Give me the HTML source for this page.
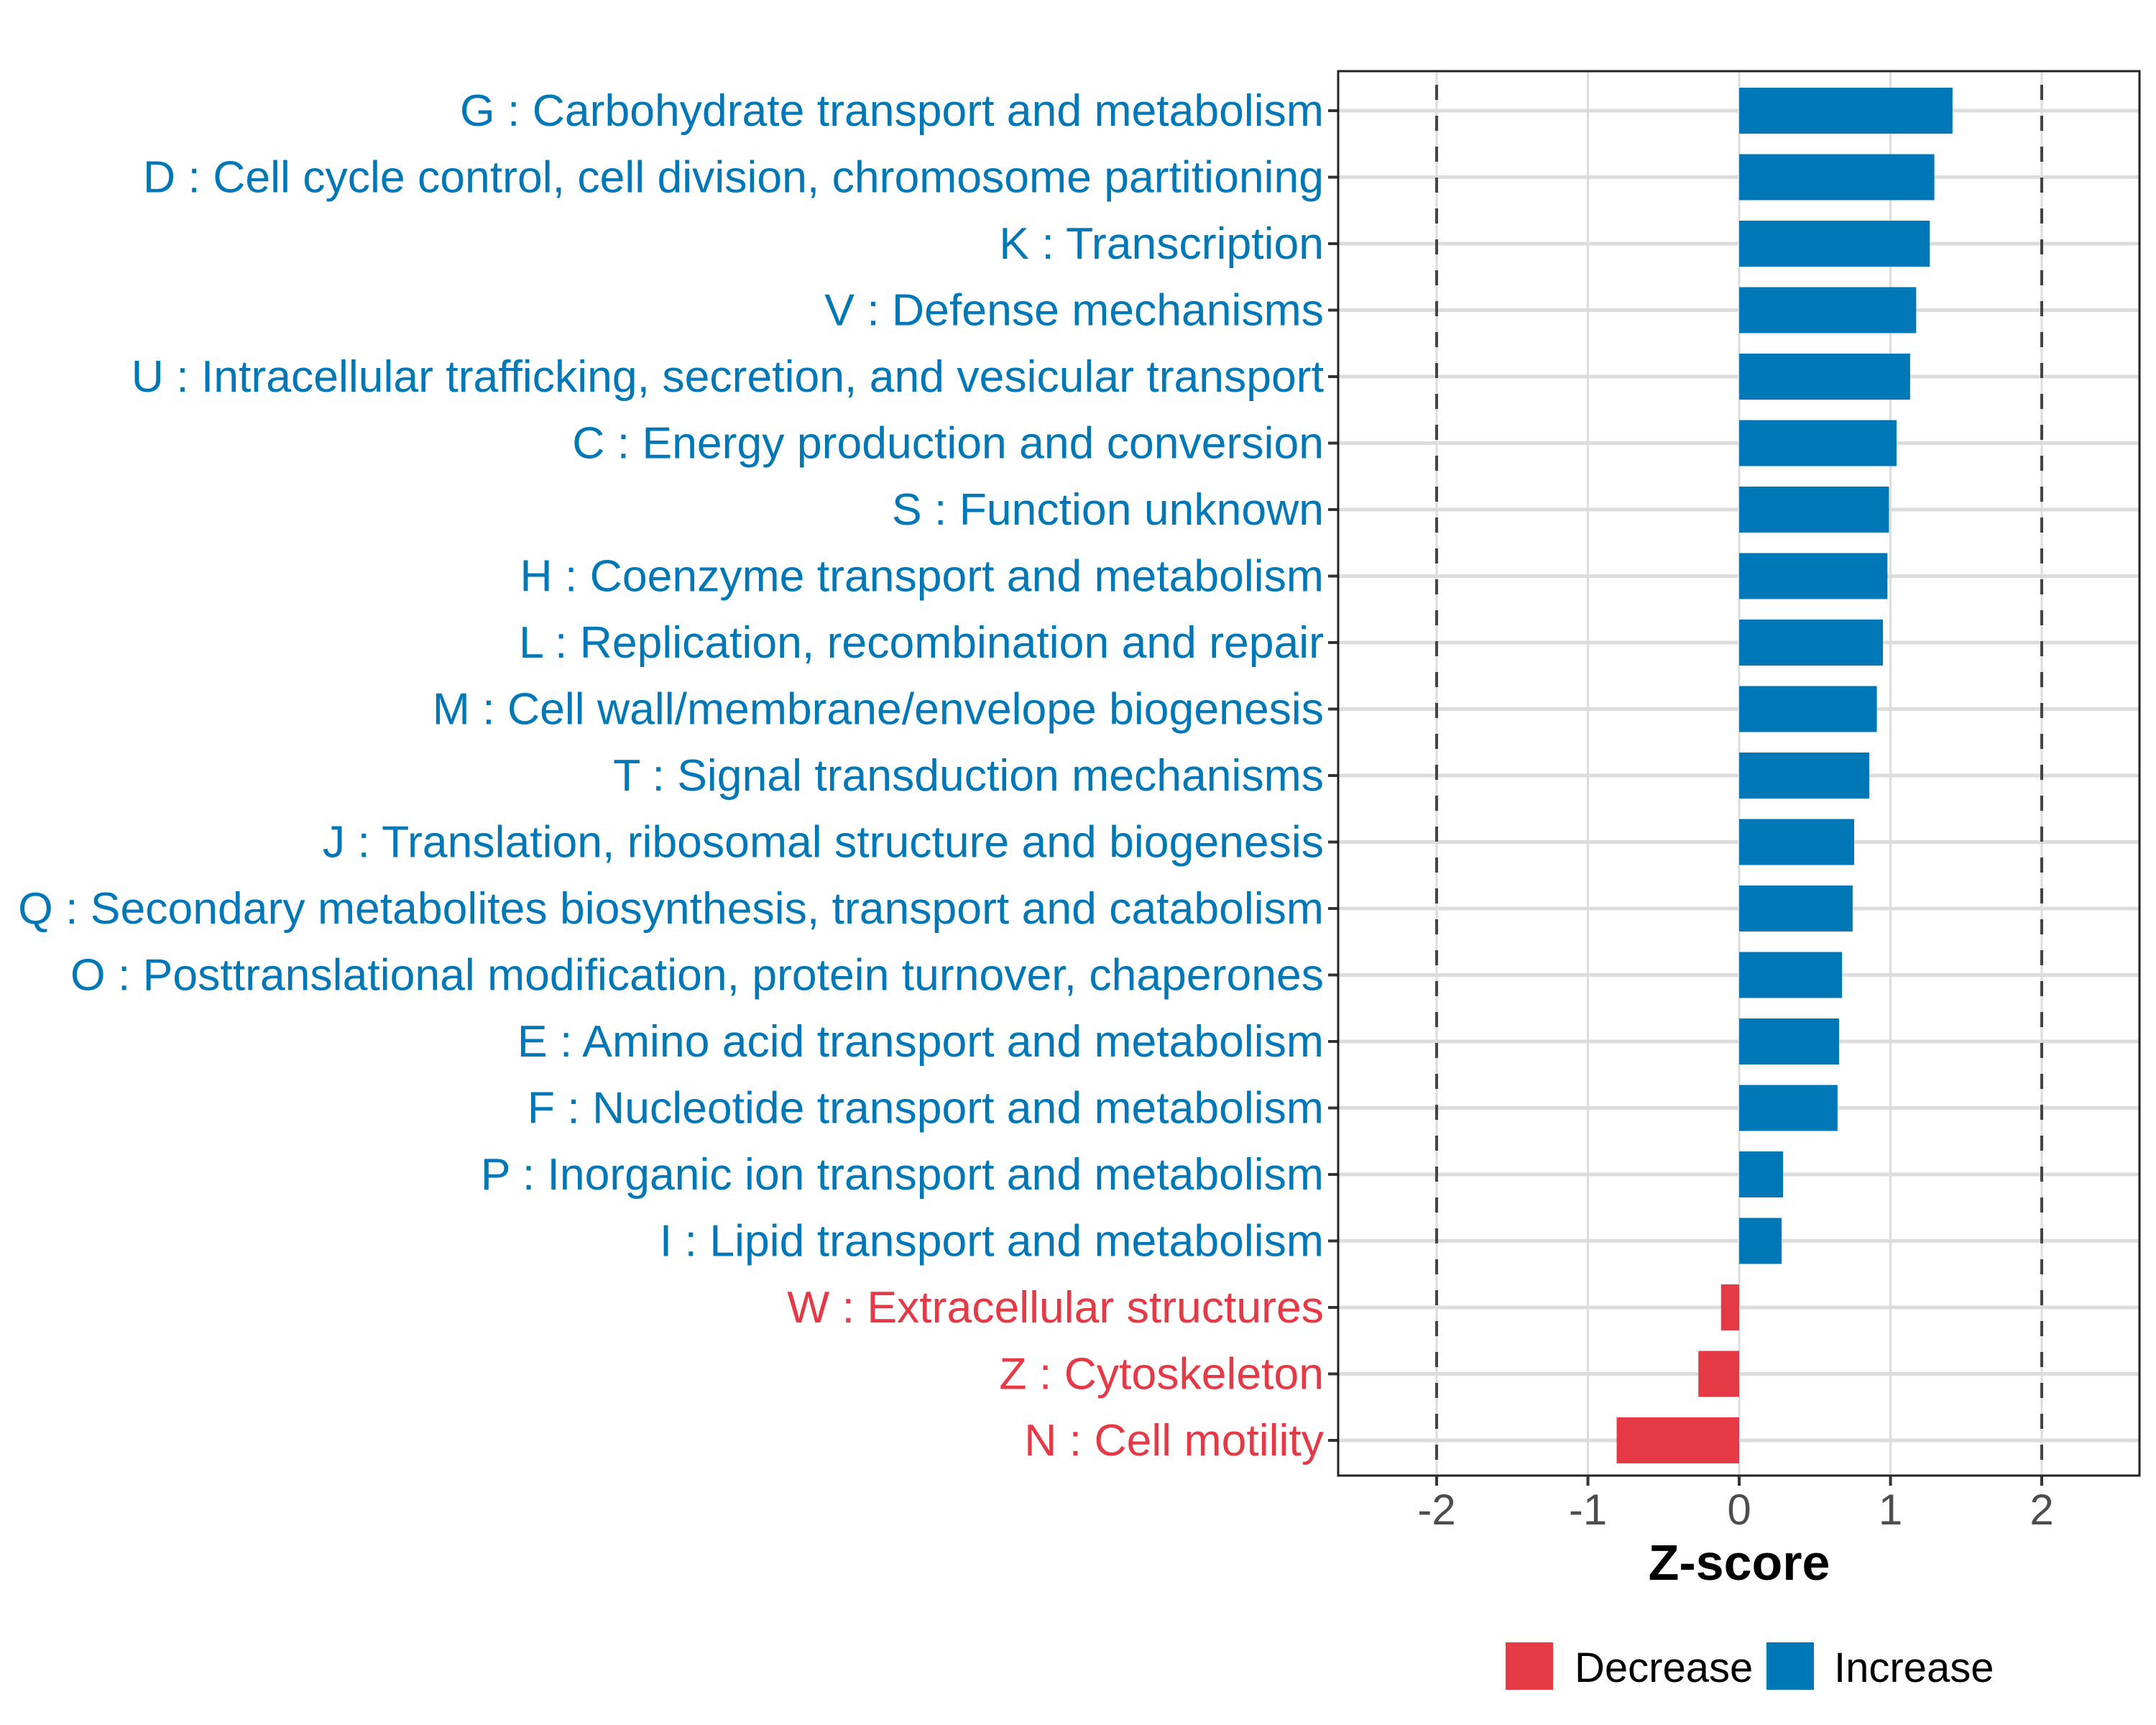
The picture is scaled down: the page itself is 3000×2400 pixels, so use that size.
<!DOCTYPE html>
<html><head><meta charset="utf-8"><style>
html,body{margin:0;padding:0;background:#fff;}
svg{display:block;font-family:"Liberation Sans",Arial,sans-serif;}
</style></head><body>
<svg id="chart" width="3000" height="2400" viewBox="0 0 3000 2400">
<g id="grid"></g>
<g id="bars"></g>
<g id="ylabels"></g>
<g id="xaxis"></g>
<text x="2420" y="2198" text-anchor="middle" font-size="70" font-weight="bold" fill="#000">Z-score</text>
<g>
<rect x="2095" y="2285" width="66" height="66" fill="#E63946"/>
<text x="2191" y="2340" font-size="58" fill="#000">Decrease</text>
<rect x="2458" y="2285" width="66" height="66" fill="#0077B6"/>
<text x="2552" y="2340" font-size="58" fill="#000">Increase</text>
</g>
</svg>
<script>
const categories = ["G : Carbohydrate transport and metabolism","D : Cell cycle control, cell division, chromosome partitioning","K : Transcription","V : Defense mechanisms","U : Intracellular trafficking, secretion, and vesicular transport","C : Energy production and conversion","S : Function unknown","H : Coenzyme transport and metabolism","L : Replication, recombination and repair","M : Cell wall/membrane/envelope biogenesis","T : Signal transduction mechanisms","J : Translation, ribosomal structure and biogenesis","Q : Secondary metabolites biosynthesis, transport and catabolism","O : Posttranslational modification, protein turnover, chaperones","E : Amino acid transport and metabolism","F : Nucleotide transport and metabolism","P : Inorganic ion transport and metabolism","I : Lipid transport and metabolism","W : Extracellular structures","Z : Cytoskeleton","N : Cell motility"];
const zscores = [1.41,1.29,1.26,1.17,1.13,1.04,0.99,0.98,0.95,0.91,0.86,0.76,0.75,0.68,0.66,0.65,0.29,0.28,-0.12,-0.27,-0.81];
const xTicks = [-2,-1,0,1,2];
const xTickLabels = ["-2","-1","0","1","2"];
const thresholds = [-2,2];

const NS="http://www.w3.org/2000/svg";
const L=1862,R=2977,T=99,B=2053;
const xMin=-2.651,xMax=2.646;
const x=v=>L+(v-xMin)/(xMax-xMin)*(R-L);
const step=92.5,firstY=154;
const y=i=>firstY+i*step;
const BLUE="#0077B6",RED="#E63946";
function mk(tag,attrs,parent){const e=document.createElementNS(NS,tag);for(const k in attrs)e.setAttribute(k,attrs[k]);parent.appendChild(e);return e;}
const grid=document.getElementById('grid'),bars=document.getElementById('bars'),yl=document.getElementById('ylabels'),xa=document.getElementById('xaxis');
xTicks.forEach(v=>{
  const g=mk('line',{x1:x(v),x2:x(v),y1:T,y2:B,stroke:'#dcdcdc','stroke-width':3},grid);
  
  
});
categories.forEach((c,i)=>{
  const g=mk('line',{x1:L,x2:R,y1:y(i),y2:y(i),stroke:'#dcdcdc','stroke-width':5},grid);
  
  
});
thresholds.forEach(t=>{
  const d=mk('line',{x1:x(t),x2:x(t),y1:T,y2:B,stroke:'#444','stroke-width':4,'stroke-dasharray':'21 22','stroke-dashoffset':'-19'},grid);
  
  
});
categories.forEach((c,i)=>{
  const v=zscores[i];
  const col=v>=0?BLUE:RED;
  const b=mk('rect',{x:Math.min(x(0),x(v)),y:y(i)-32,width:Math.abs(x(v)-x(0)),height:64,fill:col},bars);
  
  
  const tk=mk('line',{x1:L-14,x2:L,y1:y(i),y2:y(i),stroke:'#333','stroke-width':4},yl);
  
  
  const t=mk('text',{x:L-20,y:y(i)+21,'text-anchor':'end','font-size':62.5,fill:col},yl);
  t.textContent=c;
  
  
});
const pb=mk('rect',{x:L,y:T,width:R-L,height:B-T,fill:'none',stroke:'#222','stroke-width':3},xa);


xTicks.forEach((v,i)=>{
  const tk=mk('line',{x1:x(v),x2:x(v),y1:B,y2:B+14,stroke:'#333','stroke-width':4},xa);
  
  
  const t=mk('text',{x:x(v),y:2121,'text-anchor':'middle','font-size':60,fill:'#4d4d4d'},xa);
  t.textContent=xTickLabels[i];
  
  
});
</script>
</body></html>
